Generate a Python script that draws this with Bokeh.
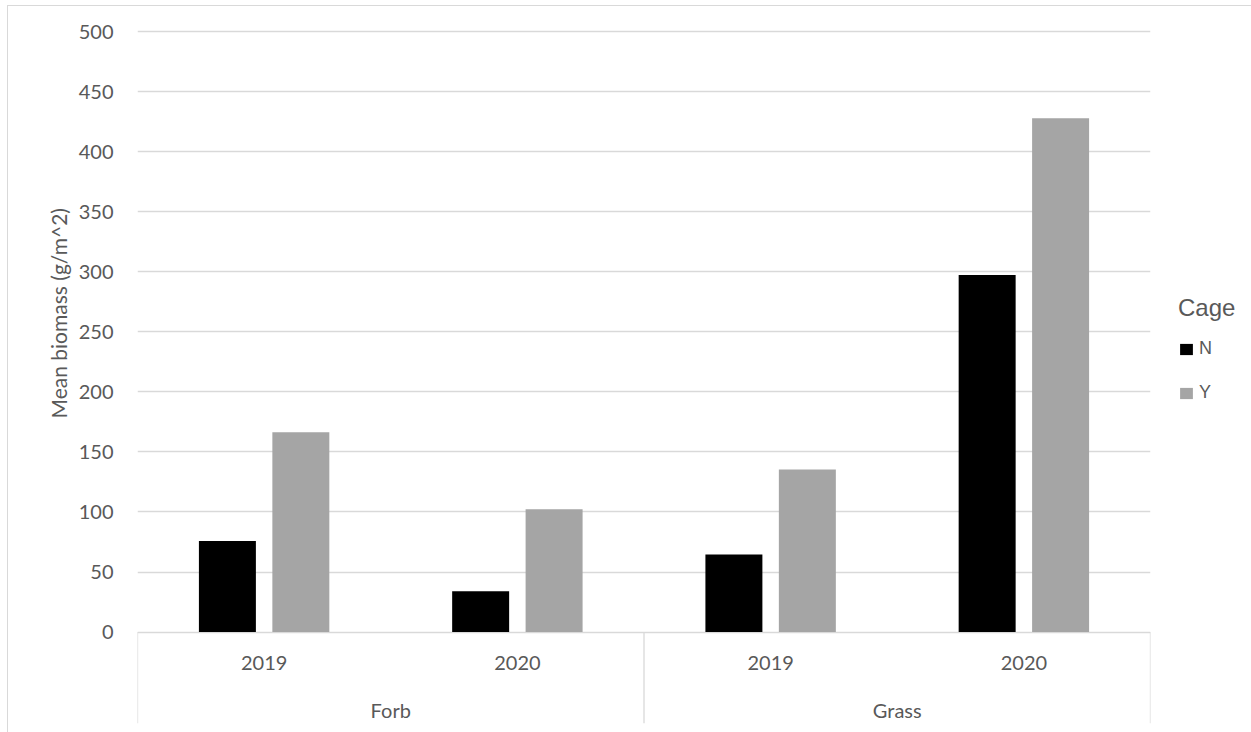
from bokeh.plotting import figure
from bokeh.models import (ColumnDataSource, FactorRange, Range1d, FixedTicker,
                          Legend, LegendItem, Title)
from bokeh.transform import dodge
from bokeh.core.properties import value
from bokeh.embed import file_html
from bokeh.resources import INLINE

# Mean above-ground biomass per life form and year, split by cage treatment
life_forms = ["Forb", "Forb", "Grass", "Grass"]
years = ["2019", "2020", "2019", "2020"]
biomass_n = [75.8, 33.9, 64.6, 297.4]
biomass_y = [166.5, 102.2, 135.4, 428.0]
cage_labels = ["N", "Y"]
groups = ["Forb", "Grass"]
y_ticks = [0, 50, 100, 150, 200, 250, 300, 350, 400, 450, 500]

TEXT = "#595959"
GRID = "#d9d9d9"
COLOR_N = "#000000"
COLOR_Y = "#a5a5a5"

factors = list(zip(life_forms, years))
bars = ColumnDataSource(dict(x=factors, n=biomass_n, y=biomass_y))

x_range = FactorRange(factors=factors, range_padding=0, factor_padding=0,
                      group_padding=0, subgroup_padding=0)

p = figure(x_range=x_range, y_range=Range1d(-79.5, 508.5),
           frame_width=1013, frame_height=706, output_backend="svg",
           toolbar_location=None,
           min_border_left=129, min_border_right=101, min_border_top=15,
           min_border_bottom=5)
# thin chart-area border, inset from the page corner
p.styles = {"margin-left": "7px", "margin-top": "5px",
            "border-left": f"1px solid {GRID}", "border-top": f"1px solid {GRID}"}
p.outline_line_color = None
p.background_fill_color = "white"
p.border_fill_color = "white"
p.xaxis.visible = False
p.xgrid.visible = False

p.ygrid.grid_line_color = GRID
p.ygrid.grid_line_width = 1.3
p.ygrid.ticker = FixedTicker(ticks=y_ticks)

yax = p.yaxis[0]
yax.ticker = FixedTicker(ticks=y_ticks)
yax.axis_line_color = None
yax.major_tick_line_color = None
yax.minor_tick_line_color = None
yax.major_tick_in = 0
yax.major_tick_out = 0
yax.major_label_standoff = 24
yax.major_label_text_font = "Lato"
yax.major_label_text_font_size = "20px"
yax.major_label_text_color = TEXT

# Value-axis title, starting a fixed distance above the bottom of the frame
p.add_layout(Title(text="Mean biomass (g/m^2)", align="left", offset=309,
                   standoff=10, text_font="Lato", text_font_size="21px",
                   text_font_style="normal", text_color=TEXT), "left")

r_n = p.vbar(x=dodge("x", -0.145, range=x_range), top="n", width=0.225,
             source=bars, fill_color=COLOR_N, line_color=None)
r_y = p.vbar(x=dodge("x", 0.145, range=x_range), top="y", width=0.225,
             source=bars, fill_color=COLOR_Y, line_color=None)

# Two-level category box below the bars
edges = ColumnDataSource(dict(
    x=[(life_forms[0], years[0], -0.5), (life_forms[2], years[2], -0.5),
       (life_forms[3], years[3], 0.5)],
    y0=[0, 0, 0], y1=[-76, -76, -76]))
p.segment(x0="x", y0="y0", x1="x", y1="y1", source=edges,
          line_color=GRID, line_width=1.3)

year_src = ColumnDataSource(dict(x=factors, t=years, y=[-26] * len(factors)))
p.text(x="x", y="y", text="t", source=year_src, text_font=value("Lato"),
       text_font_size="20px", text_color=TEXT, text_align="center",
       text_baseline="middle")
group_src = ColumnDataSource(dict(x=groups, t=groups, y=[-65] * len(groups)))
p.text(x="x", y="y", text="t", source=group_src, text_font=value("Lato"),
       text_font_size="20px", text_color=TEXT, text_align="center",
       text_baseline="middle")

legend = Legend(items=[LegendItem(label=cage_labels[0], renderers=[r_n]),
                       LegendItem(label=cage_labels[1], renderers=[r_y])],
                location=(28, 324), orientation="vertical",
                title="Cage", title_text_font="Liberation Sans",
                title_text_font_size="24px", title_text_font_style="normal",
                title_text_color=TEXT, title_standoff=16,
                border_line_color=None, background_fill_alpha=0,
                padding=0, margin=0, spacing=23,
                glyph_width=16, glyph_height=14, label_standoff=5,
                label_height=20, label_text_font="Liberation Sans",
                label_text_font_size="18px", label_text_color=TEXT)
p.add_layout(legend, "right")

open("out.html", "w").write(file_html(p, INLINE))
